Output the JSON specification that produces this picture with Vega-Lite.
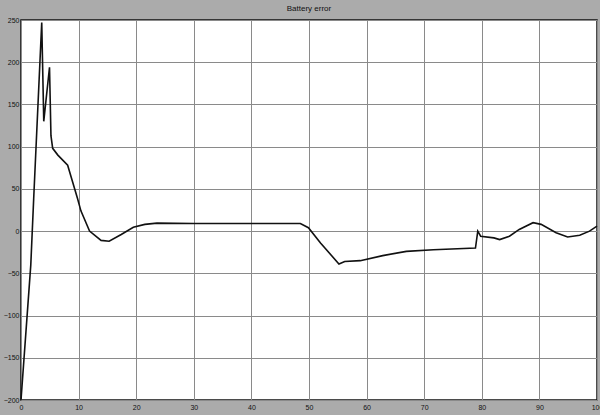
{
  "$schema": "https://vega.github.io/schema/vega-lite/v6.json",
  "width": 576,
  "height": 380,
  "autosize": "none",
  "padding": {"left": 21, "top": 20, "right": 3, "bottom": 15},
  "background": "#ababab",
  "config": {
    "view": {"fill": "white", "stroke": "#111111", "strokeWidth": 1.5},
    "font": "Liberation Sans"
  },
  "title": {"text": "Battery error", "fontSize": 8, "fontWeight": "normal", "color": "#111111", "offset": 3},
  "data": {
    "values": [
      {"t": 0, "err": -200}, {"t": 1.7, "err": -40}, {"t": 2.2, "err": 38}, {"t": 3.6, "err": 247},
      {"t": 3.95, "err": 130}, {"t": 4.95, "err": 194}, {"t": 5.2, "err": 113}, {"t": 5.5, "err": 98},
      {"t": 6.4, "err": 90}, {"t": 8.1, "err": 78}, {"t": 9.8, "err": 39}, {"t": 10.4, "err": 24},
      {"t": 11.9, "err": 0}, {"t": 13.9, "err": -11}, {"t": 15.3, "err": -12}, {"t": 17.4, "err": -4},
      {"t": 19.5, "err": 4.5}, {"t": 21.5, "err": 8}, {"t": 23.6, "err": 9.5}, {"t": 30, "err": 9},
      {"t": 40, "err": 9}, {"t": 48.5, "err": 9}, {"t": 49.9, "err": 4}, {"t": 52, "err": -14},
      {"t": 55.2, "err": -39}, {"t": 56.2, "err": -36}, {"t": 58.9, "err": -35}, {"t": 62.8, "err": -29},
      {"t": 66.9, "err": -24}, {"t": 71.6, "err": -22}, {"t": 78.9, "err": -20}, {"t": 79.3, "err": 0},
      {"t": 79.8, "err": -6}, {"t": 82.1, "err": -8}, {"t": 83.1, "err": -10}, {"t": 84.8, "err": -6},
      {"t": 86.5, "err": 2}, {"t": 88.9, "err": 10}, {"t": 90.3, "err": 8}, {"t": 92.9, "err": -2},
      {"t": 94.9, "err": -7}, {"t": 97, "err": -5}, {"t": 98.7, "err": 0}, {"t": 100, "err": 6}
    ]
  },
  "mark": {"type": "line", "color": "#111111", "strokeWidth": 1.6},
  "encoding": {
    "x": {
      "field": "t", "type": "quantitative",
      "scale": {"domain": [0, 100], "nice": false, "zero": false},
      "axis": {
        "title": null, "values": [0,10,20,30,40,50,60,70,80,90,100],
        "grid": true, "gridColor": "#8a8a8a", "gridOpacity": 1, "gridWidth": 1,
        "domain": false, "tickSize": 0, "labelPadding": 3,
        "labelFontSize": 7, "labelColor": "#111111", "labelFlush": false
      }
    },
    "y": {
      "field": "err", "type": "quantitative",
      "scale": {"domain": [-200, 250], "nice": false, "zero": false},
      "axis": {
        "title": null, "values": [-200,-150,-100,-50,0,50,100,150,200,250],
        "grid": true, "gridColor": "#8a8a8a", "gridOpacity": 1, "gridWidth": 1,
        "domain": false, "tickSize": 0, "labelPadding": 2,
        "labelFontSize": 7, "labelColor": "#111111", "labelFlush": false
      }
    }
  }
}
